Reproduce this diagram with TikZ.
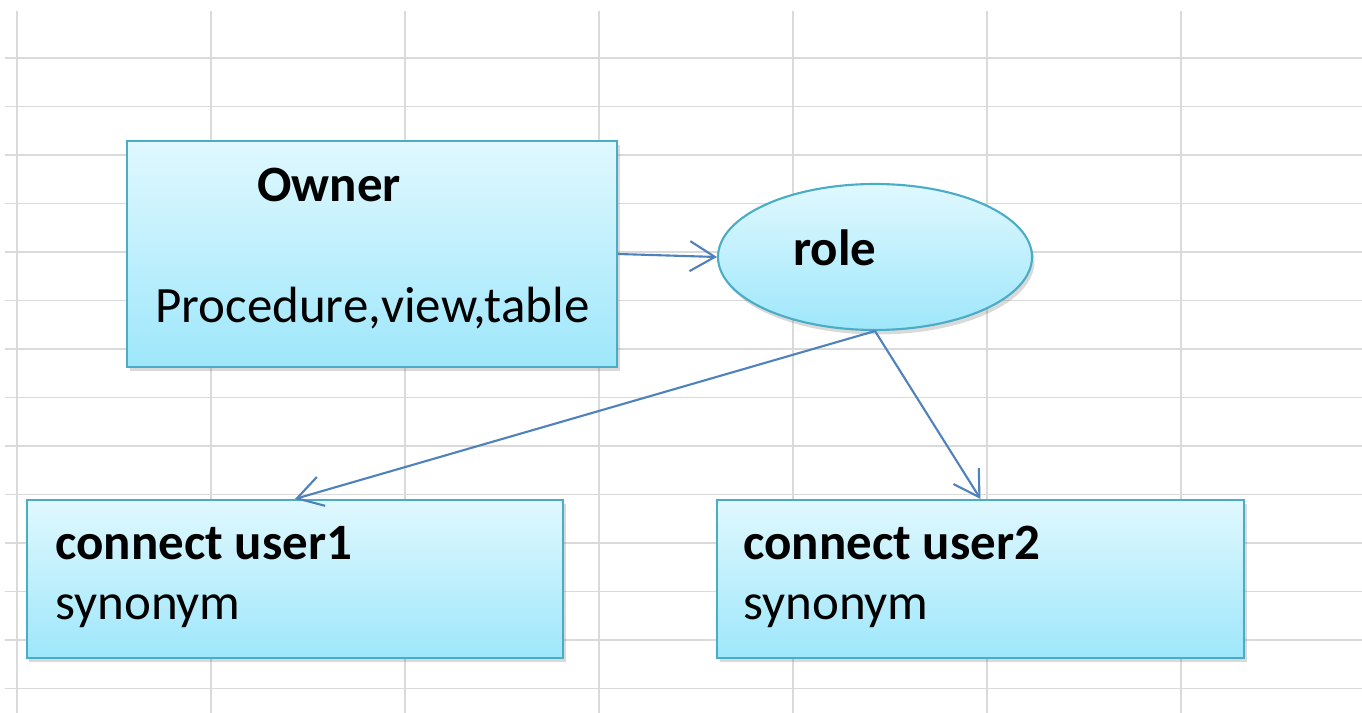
\documentclass[tikz,border=0pt]{standalone}
\usepackage{fontspec}
\setmainfont{Carlito}
\usetikzlibrary{shapes.geometric,arrows.meta,shadows}

\definecolor{cellline}{RGB}{218,218,218}
\definecolor{boxedge}{RGB}{75,172,198}
\definecolor{boxtop}{RGB}{224,248,254}
\definecolor{boxbottom}{RGB}{158,231,251}
\definecolor{linkblue}{RGB}{79,129,189}

\tikzset{
  objbox/.style={draw=boxedge, line width=1.2pt, top color=boxtop, bottom color=boxbottom,
    drop shadow={opacity=0.3, shadow xshift=0.05cm, shadow yshift=-0.09cm}},
  txt/.style={anchor=base west, inner sep=0pt, font=\fontsize{29}{34}\selectfont}
}

\begin{document}
\begin{tikzpicture}[>={Straight Barb[length=5mm,width=6mm]}]
\useasboundingbox (0,0) rectangle (27.24,14.26);
% sheet cells
\foreach \x in {0,...,6}
  \draw[cellline, line width=1.1pt] (0.34+3.88*\x,0) -- (0.34+3.88*\x,14.04);
\foreach \y in {0,...,13}
  \draw[cellline, line width=1.1pt] (0.1,13.1-0.97*\y) -- (27.24,13.1-0.97*\y);

% shapes
\node[objbox, minimum width=9.8cm, minimum height=4.52cm] (owner) at (7.44,9.18) {};
\node[objbox, ellipse, minimum width=6.28cm, minimum height=2.92cm] (role) at (17.5,9.12) {};
\node[objbox, minimum width=10.72cm, minimum height=3.16cm] (user1) at (5.9,2.68) {};
\node[objbox, minimum width=10.54cm, minimum height=3.16cm] (user2) at (19.61,2.68) {};

% texts
\node[txt] (ownertitle) at (5.14,10.22) {\textbf{Owner}};
\node[txt] (ownerobjs) at (3.1,7.8) {Procedure,view,table};
\node[txt] (roletitle) at (15.86,8.94) {\textbf{role}};
\node[txt] (user1title) at (1.1,3.06) {\textbf{connect user1}};
\node[txt] (user1obj) at (1.1,1.86) {synonym};
\node[txt] (user2title) at (14.86,3.06) {\textbf{connect user2}};
\node[txt] (user2obj) at (14.86,1.86) {synonym};

% links
\draw[->, linkblue, line width=1.2pt] (owner.east) -- (role.west);
\draw[->, linkblue, line width=1.2pt] (role.south) -- (user1.north);
\draw[->, linkblue, line width=1.2pt] (role.south) -- (user2.north);
\end{tikzpicture}
\end{document}
